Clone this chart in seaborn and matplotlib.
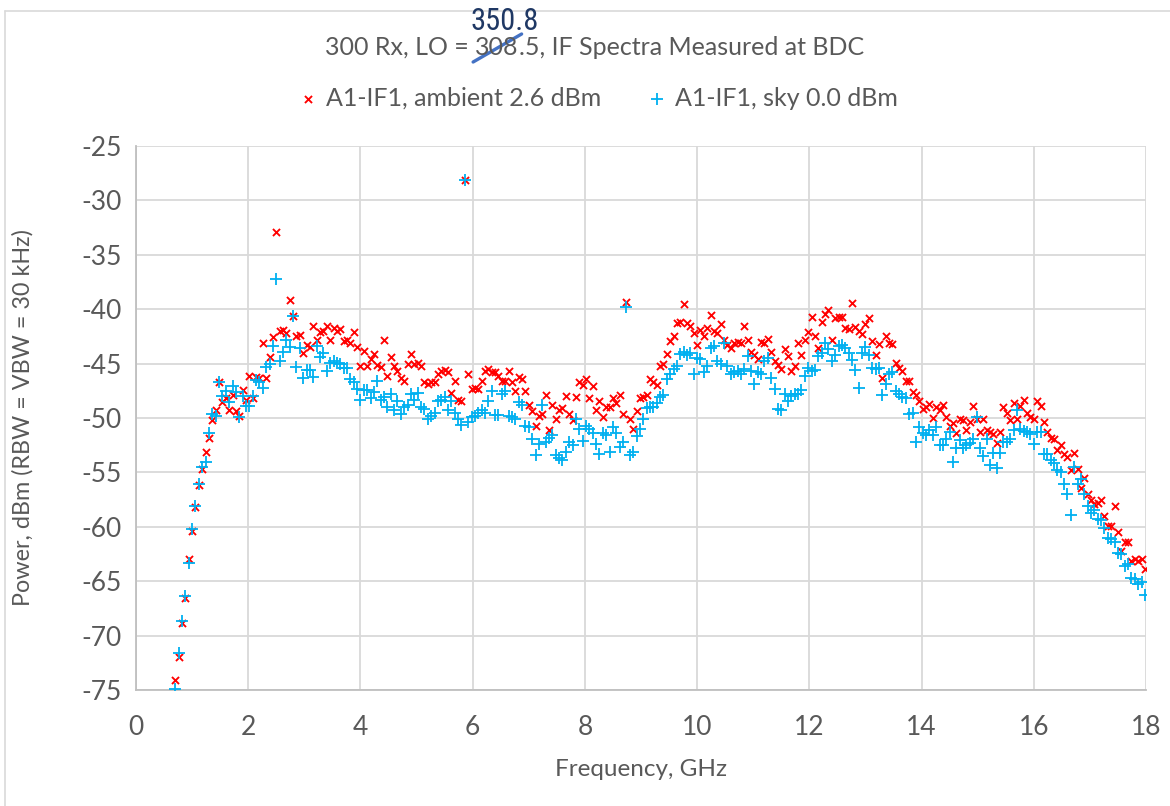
import numpy as np
import pandas as pd
import matplotlib
matplotlib.use("Agg")
import matplotlib.pyplot as plt
import seaborn as sns
from matplotlib.lines import Line2D

# ---------------- data ----------------
freq_start_ghz = 0.70
freq_step_ghz = 0.06

ambient_dbm = [
    -74.1, -72.0, -68.8, -66.5, -63.0, -60.4, -58.2, -56.2, -54.7, -53.1,
    -51.8, -50.2, -49.3, -46.7, -48.5, -48.2, -49.3, -47.9, -49.4, -49.8,
    -47.4, -48.3, -46.1, -48.2, -46.2, -46.3, -43.1, -46.3, -44.4, -42.6,
    -32.9, -42.0, -41.9, -42.2, -39.2, -40.6, -42.5, -42.4, -44.0, -43.3,
    -43.5, -41.5, -42.8, -42.1, -42.0, -41.5, -42.8, -41.7, -42.0, -41.8,
    -42.9, -42.8, -43.1, -42.1, -43.5, -45.2, -43.8, -45.2, -44.6, -44.1,
    -45.1, -45.3, -42.8, -46.1, -44.4, -45.2, -45.7, -46.3, -46.6, -45.0,
    -44.1, -45.0, -44.9, -45.2, -46.7, -46.9, -46.7, -46.7, -46.0, -45.7,
    -45.6, -45.8, -47.7, -46.6, -48.3, -48.4, -28.1, -46.0, -47.3, -47.2,
    -47.3, -46.6, -45.7, -45.5, -45.8, -45.8, -46.1, -46.6, -46.6, -45.7,
    -46.7, -47.5, -46.2, -46.4, -47.5, -48.8, -49.4, -50.7, -49.8, -49.6,
    -47.9, -51.1, -48.8, -50.1, -49.3, -49.1, -48.0, -49.6, -50.2, -48.1,
    -46.7, -47.0, -46.4, -48.2, -47.1, -49.3, -48.4, -49.9, -49.0, -49.0,
    -48.2, -48.6, -47.9, -49.6, -39.3, -50.1, -51.0, -49.4, -48.2, -48.1,
    -47.9, -46.4, -46.7, -47.0, -45.2, -45.0, -44.1, -42.9, -42.5, -41.3,
    -41.2, -39.5, -41.3, -41.5, -42.2, -43.3, -41.9, -42.5, -41.7, -40.5,
    -42.0, -42.2, -41.4, -42.8, -43.3, -43.6, -43.1, -43.0, -43.1, -41.5,
    -42.8, -43.9, -44.2, -44.6, -43.0, -43.1, -42.7, -43.9, -44.8, -45.1,
    -45.5, -43.7, -44.3, -45.7, -45.2, -43.1, -44.2, -42.8, -42.1, -40.7,
    -42.5, -43.6, -41.2, -40.4, -40.1, -42.8, -40.8, -40.7, -40.7, -41.7,
    -41.8, -39.4, -41.6, -42.0, -42.3, -41.4, -40.8, -42.9, -44.2, -43.2,
    -46.3, -42.5, -43.1, -43.2, -44.9, -45.4, -45.7, -46.6, -46.6, -47.6,
    -47.9, -48.4, -49.2, -49.0, -48.7, -50.0, -49.0, -49.3, -48.8, -49.9,
    -50.7, -50.5, -51.4, -50.1, -50.2, -51.1, -50.4, -48.9, -50.1, -51.3,
    -50.1, -51.1, -51.3, -51.5, -52.3, -51.3, -49.0, -49.5, -50.2, -48.6,
    -50.1, -48.9, -48.3, -49.5, -49.9, -50.1, -48.4, -48.9, -50.4, -51.3,
    -51.8, -51.9, -52.9, -52.5, -53.3, -53.6, -54.8, -53.2, -54.7, -56.4,
    -55.5, -57.0, -57.5, -57.9, -57.8, -57.5, -59.0, -59.9, -59.9, -58.1,
    -60.5, -62.2, -61.4, -61.4, -63.1, -63.0, -63.1, -63.0, -63.9,
]

sky_dbm = [
    -74.9, -71.6, -68.7, -66.4, -63.3, -60.2, -58.1, -56.1, -54.5, -54.0,
    -51.4, -49.6, -49.8, -46.7, -48.0, -47.5, -48.5, -47.1, -47.6, -49.9,
    -48.0, -48.9, -48.9, -48.0, -46.5, -46.7, -47.2, -45.3, -45.0, -43.4,
    -37.2, -44.8, -43.9, -42.8, -43.5, -40.6, -45.3, -43.6, -46.3, -45.6,
    -45.6, -46.2, -43.4, -44.4, -44.0, -45.7, -44.9, -44.8, -44.9, -45.0,
    -45.4, -45.4, -46.4, -46.7, -47.3, -48.3, -47.4, -47.4, -48.2, -47.6,
    -46.6, -48.3, -48.1, -49.0, -47.8, -49.3, -48.4, -49.6, -49.0, -48.8,
    -47.8, -48.3, -47.7, -49.0, -49.2, -50.1, -49.8, -49.5, -48.4, -48.3,
    -48.1, -49.3, -48.4, -49.5, -50.1, -50.6, -28.1, -50.4, -49.9, -49.8,
    -49.5, -49.3, -49.5, -48.4, -47.5, -49.7, -49.7, -47.8, -47.5, -49.8,
    -49.9, -50.1, -48.5, -48.8, -50.7, -50.8, -51.9, -53.4, -52.4, -48.8,
    -52.2, -51.8, -51.6, -53.4, -53.7, -53.9, -53.1, -52.2, -52.5, -50.1,
    -51.0, -52.1, -50.7, -51.0, -51.4, -52.4, -53.3, -51.4, -51.6, -53.1,
    -50.8, -51.4, -52.7, -52.2, -39.8, -53.4, -53.1, -51.7, -51.0, -50.1,
    -49.1, -49.0, -49.0, -48.6, -48.1, -47.9, -46.4, -46.0, -45.5, -45.2,
    -44.1, -43.9, -44.2, -44.0, -46.0, -44.5, -44.6, -45.8, -45.2, -43.6,
    -43.4, -44.8, -45.0, -43.1, -45.2, -46.0, -45.8, -45.7, -46.0, -45.5,
    -44.3, -45.7, -46.9, -45.8, -46.0, -44.8, -44.5, -46.3, -47.3, -49.2,
    -49.3, -47.8, -48.4, -48.0, -47.8, -47.8, -47.4, -46.1, -45.4, -45.7,
    -45.6, -44.3, -44.0, -43.1, -43.7, -44.8, -44.2, -43.4, -43.3, -43.6,
    -44.0, -44.7, -45.6, -47.2, -44.0, -43.5, -44.2, -45.4, -45.5, -45.4,
    -47.9, -46.9, -46.0, -45.8, -47.5, -47.8, -48.1, -48.2, -49.6, -49.5,
    -52.2, -50.8, -51.4, -51.6, -51.1, -51.6, -50.8, -52.5, -52.5, -51.9,
    -51.3, -54.0, -52.8, -52.0, -52.8, -52.5, -52.3, -51.9, -49.9, -52.8,
    -53.5, -51.9, -54.3, -53.2, -54.6, -53.2, -52.2, -52.2, -51.9, -51.1,
    -49.3, -51.0, -51.2, -51.3, -51.5, -52.4, -51.3, -51.3, -53.3, -53.3,
    -53.9, -54.1, -54.8, -55.0, -56.1, -57.0, -58.9, -54.5, -56.1, -55.6,
    -57.0, -58.1, -58.7, -58.5, -59.3, -59.4, -60.1, -61.0, -61.1, -61.4,
    -62.4, -62.5, -63.6, -63.4, -64.7, -64.8, -65.3, -65.1, -66.3,
]

series_labels = ["A1-IF1, ambient 2.6 dBm", "A1-IF1, sky 0.0 dBm"]
x_ticks = [0, 2, 4, 6, 8, 10, 12, 14, 16, 18]
y_ticks = [-75, -70, -65, -60, -55, -50, -45, -40, -35, -30, -25]
title_parts = ["300 Rx, LO = ", "308", ".5, IF Spectra Measured at BDC"]
handwritten = "350.8"
x_label = "Frequency, GHz"
y_label = "Power, dBm (RBW = VBW = 30 kHz)"

freq_ghz = np.round(freq_start_ghz + freq_step_ghz * np.arange(len(ambient_dbm)), 3)

# ---------------- style ----------------
sns.set_theme(style="white")
plt.rcParams["font.family"] = ["Lato", "DejaVu Sans"]
TEXT = "#595959"
GRID = "#d9d9d9"
RED = "#ff0000"
BLUE = "#00b0f0"

W, H = 1170, 806
fig = plt.figure(figsize=(W / 100, H / 100), dpi=100)
fig.patch.set_facecolor("white")
ax = fig.add_axes([136 / W, 1 - 690 / H, (1146 - 136) / W, (690 - 146) / H])

sns.scatterplot(x=freq_ghz, y=ambient_dbm, ax=ax, marker="x", color=RED,
                s=26, linewidth=1.35, label=series_labels[0], zorder=3)
sns.scatterplot(x=freq_ghz, y=sky_dbm, ax=ax, marker="+", color=BLUE,
                s=64, linewidth=1.3, label=series_labels[1], zorder=4)

ax.set_xlim(0, 18)
ax.set_ylim(-75, -25)
ax.set_xticks(x_ticks)
ax.set_yticks(y_ticks)
ax.set_xticklabels([str(t) for t in x_ticks])
ax.set_yticklabels([str(t) for t in y_ticks])
ax.grid(True, color=GRID, linewidth=1.3)
ax.set_axisbelow(True)
for side in ["top", "right"]:
    ax.spines[side].set_visible(False)
for side in ["left", "bottom"]:
    ax.spines[side].set_color("#bfbfbf")
    ax.spines[side].set_linewidth(1.3)
ax.tick_params(axis="both", length=0, labelsize=19, labelcolor=TEXT)
ax.tick_params(axis="x", pad=18)
ax.tick_params(axis="y", pad=10)
ax.set_xlabel(x_label, fontsize=17.5, color=TEXT, labelpad=14)
ax.set_ylabel(y_label, fontsize=16.8, color=TEXT, labelpad=35)

leg = ax.legend(loc="center", bbox_to_anchor=(598 / W, 1 - 98 / H),
                bbox_transform=fig.transFigure, ncol=2, frameon=False,
                fontsize=18, handletextpad=0.32, columnspacing=1.85,
                handlelength=0.8, markerscale=1.0)
for t in leg.get_texts():
    t.set_color(TEXT)

# ---------------- title with strike-through and handwritten fix ----------------
renderer = fig.canvas.get_renderer()
x_px = 325.0
base_y = 1 - 55 / H
pieces = []
for part in title_parts:
    t = fig.text(x_px / W, base_y, part, fontsize=18, color=TEXT,
                 ha="left", va="baseline")
    bb = t.get_window_extent(renderer=renderer)
    pieces.append(bb)
    x_px += bb.width
bb308 = pieces[1]
fig.text((bb308.x0 - 5) / W, 1 - 30 / H, handwritten, fontsize=22,
         color="#1f3864", ha="left", va="baseline",
         family=["Liberation Sans Narrow", "Roboto Condensed", "Roboto", "DejaVu Sans"])
x0 = (bb308.x0 - 2) / W
x1 = (bb308.x1 + 3) / W
fig.add_artist(Line2D([x0, x1], [1 - 62 / H, 1 - 34 / H],
                      transform=fig.transFigure, color="#4472c4", linewidth=2.4,
                      solid_capstyle="round"))

# chart-area border remnants
fig.add_artist(Line2D([5 / W, 1.0], [1 - 11 / H, 1 - 11 / H],
                      transform=fig.transFigure, color="#d9d9d9", linewidth=1.2))
fig.add_artist(Line2D([5 / W, 5 / W], [0.0, 1 - 11 / H],
                      transform=fig.transFigure, color="#d9d9d9", linewidth=1.2))

fig.savefig("out.png", dpi=100, facecolor="white")
